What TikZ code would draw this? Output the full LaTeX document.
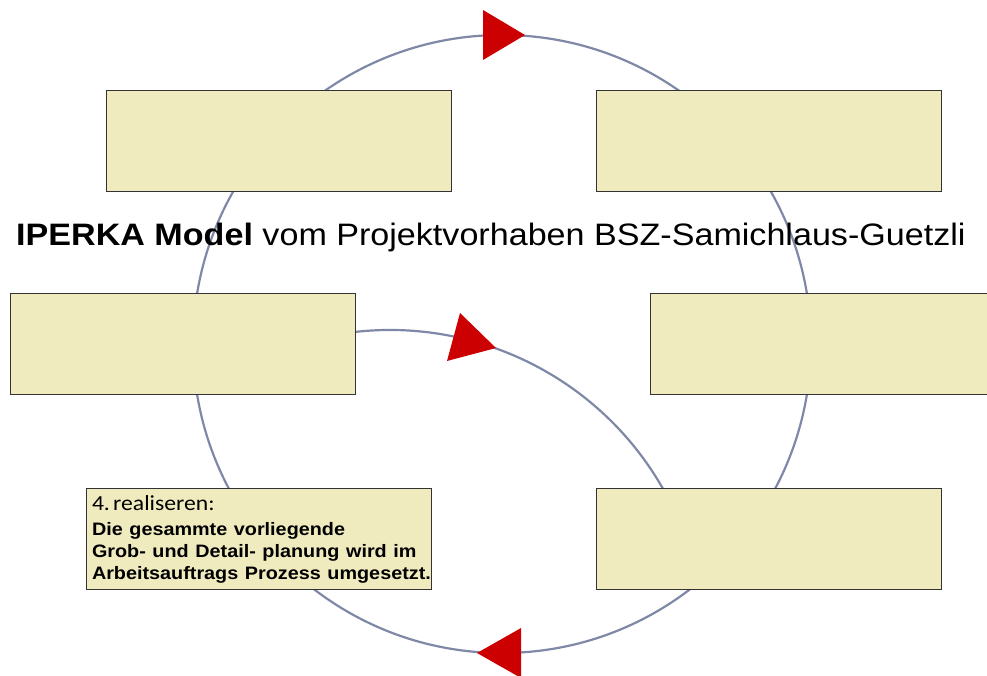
\documentclass[tikz,border=0pt]{standalone}
\usepackage{fontspec}
\setmainfont{Liberation Sans}
\newfontfamily\carlito{Carlito}
\usetikzlibrary{shapes}
\usetikzlibrary {positioning}

\definecolor{boxfill}{HTML}{F0EBBE}
\definecolor{ringcol}{HTML}{8088A8}
\definecolor{arrowred}{HTML}{CC0000}
\newcommand{\widetxt}[1]{\scalebox{1.1}[1]{#1}}

\begin{document}
\begin{tikzpicture}[x=1pt ,y=1pt ,node distance =398.5pt and 490.5pt ,on grid ,
    ring/.style ={ draw=ringcol ,line width=2.2pt},
    redtri/.style ={ fill=arrowred},
    phase/.style ={ rectangle ,fill=boxfill ,draw=black!80 ,line width=0.8pt ,
    minimum width =345pt, minimum height = 101pt ,inner sep=6pt}]
    \useasboundingbox (0,0) rectangle (987,675);
    % Zyklus
    \draw[ring] (502,331) circle [radius=309pt];
    \draw[ring] (390,31) ++(100:314pt) arc [start angle=100 ,end angle=25 ,radius=314pt];
    \fill[redtri] (483,665) -- (525,640) -- (483,615) -- cycle;
    \fill[redtri] (460,362) -- (496,327) -- (447,314) -- cycle;
    \fill[redtri] (521,47) -- (477,22) -- (521,-3) -- cycle;
    % Phasen
    \node[phase] (tl) at (278.5,534.5) {};
    \node[phase] (tr) [right =of tl] {};
    \node[phase] (br) [below =of tr] {};
    \node[phase] (ml) at (182.5,331) {};
    \node[phase] (mr) at (822.5,331) {};
    \node[phase ,text width=333pt ,align=left ,font=\fontsize{18}{22}\selectfont\bfseries]
      (real) at (258.5,136) {%
      {\carlito\mdseries\fontsize{21.5}{22}\selectfont\widetxt{4.\kern-3pt\ realiseren:}}\\[3pt]
      \widetxt{Die gesammte vorliegende}\\
      \widetxt{Grob- und Detail- planung wird im}\\
      \widetxt{Arbeitsauftrags Prozess umgesetzt.}%
      };
    \node[anchor=base west ,inner sep=0pt ,font=\fontsize{31}{37}\selectfont]
      (title) at (16,429) {\widetxt{\textbf{IPERKA Model} vom Projektvorhaben BSZ-Samichlaus-Guetzli}};
\end{tikzpicture}
\end{document}
